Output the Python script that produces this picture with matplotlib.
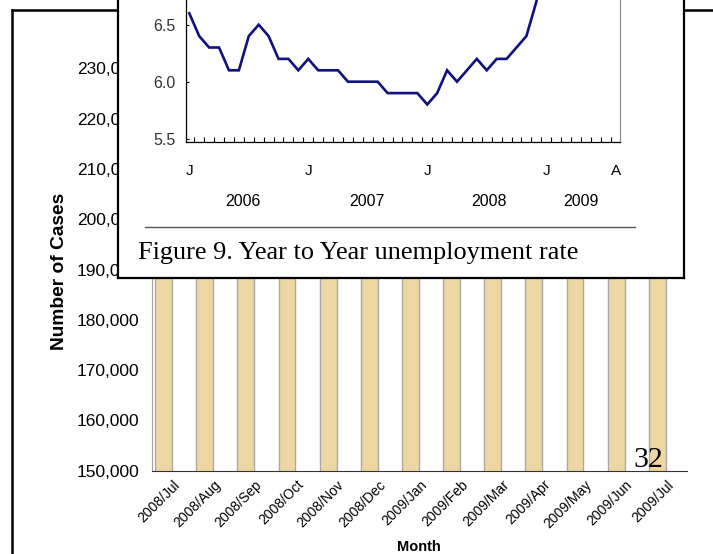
import numpy as np
import matplotlib
matplotlib.use('Agg')
import matplotlib.pyplot as plt
from matplotlib.lines import Line2D
import matplotlib.transforms as mtransforms

# Bar chart data (number of cases per month; tops hidden behind the inset)
months = ['2008/Jul', '2008/Aug', '2008/Sep', '2008/Oct', '2008/Nov', '2008/Dec',
          '2009/Jan', '2009/Feb', '2009/Mar', '2009/Apr', '2009/May', '2009/Jun', '2009/Jul']
cases = [196000, 199000, 203000, 205000, 208000, 213000, 218000,
         221000, 224000, 226000, 228000, 229000, 229500]
case_ticks = [150000, 160000, 170000, 180000, 190000, 200000, 210000, 220000, 230000]

# Inset: monthly unemployment rate, Jan 2006 .. Aug 2009
rate = [6.6, 6.4, 6.3, 6.3, 6.1, 6.1, 6.4, 6.5, 6.4, 6.2, 6.2, 6.1,
        6.2, 6.1, 6.1, 6.1, 6.0, 6.0, 6.0, 6.0, 5.9, 5.9, 5.9, 5.9,
        5.8, 5.9, 6.1, 6.0, 6.1, 6.2, 6.1, 6.2, 6.2, 6.3, 6.4, 6.7,
        7.2, 7.7, 8.0, 8.3, 8.6, 8.7, 8.6, 8.7]
rate_ticks = [5.5, 6.0, 6.5]
month_letters = ['J', 'J', 'J', 'J', 'A']
month_letter_pos = [0, 12, 24, 36, 43]
years = ['2006', '2007', '2008', '2009']
year_pos = [5.4, 17.9, 30.25, 39.5]

W, H = 713, 554
fig = plt.figure(figsize=(W / 100, H / 100), dpi=100)
sans = 'Liberation Sans'
serif = 'Liberation Serif'

# ---- background bar chart ----
ax = fig.add_axes([152 / W, 1 - 470.7 / H, 535 / W, (470.7 - 68.3) / H])
x = np.arange(len(months))
ax.bar(x - 0.22, cases, width=0.41, color='#EDD6A2', edgecolor='#A8A8A8', linewidth=1)
ax.set_xlim(-0.5, len(months) - 0.5)
ax.set_ylim(150000, 230000)
ax.set_yticks(case_ticks)
ax.set_yticklabels([f'{v:,}' for v in case_ticks], fontsize=12.5, family=sans)
ax.set_xticks(x)
ax.set_xticklabels(months, rotation=45, ha='right', va='top', rotation_mode='anchor',
                   fontsize=10, family=sans)
ax.tick_params(axis='y', length=0, pad=9)
ax.tick_params(axis='x', length=0, pad=5)
for s in ['top', 'right']:
    ax.spines[s].set_visible(False)
ax.spines['left'].set_color('#A0A0A0')
ax.spines['bottom'].set_color('#333333')
ax.set_zorder(0)

fig.text(59.5 / W, 1 - 271 / H, 'Number of Cases', rotation=90, ha='center', va='center',
         fontsize=13.8, fontweight='bold', family=sans)
fig.text(418.7 / W, 1 - 547.3 / H, 'Month', ha='center', va='center',
         fontsize=10.5, fontweight='bold', family=sans)
fig.text(633 / W, 1 - 466.7 / H, '32', ha='left', va='baseline', fontsize=21.5, family=serif)

# outer page frame
fig.add_artist(Line2D([12 / W, 12 / W], [0, 1 - 10 / H], color='black', lw=1.8, zorder=1))
fig.add_artist(Line2D([12 / W, 1], [1 - 10 / H, 1 - 10 / H], color='black', lw=1.8, zorder=1))

# ---- inset box ----
box = fig.add_axes([118 / W, 1 - 278 / H, 566 / W, 0.6])
box.set_xticks([])
box.set_yticks([])
box.set_facecolor('white')
for s in box.spines.values():
    s.set_linewidth(1.6)
    s.set_color('black')
box.set_zorder(5)

# ---- inset line chart ----
px_per_unit = 114.0
y_bot = 5.5 - 3 / px_per_unit
y_top = 7.0
bot_px = 141.7
top_px = bot_px - (y_top - y_bot) * px_per_unit
lax = fig.add_axes([185.7 / W, 1 - bot_px / H, (619.5 - 185.7) / W, (bot_px - top_px) / H])
k = np.arange(len(rate))
lax.plot(k, rate, color='#10107F', lw=1.9, solid_joinstyle='miter')
lax.set_xlim(-0.363, 43.39)
lax.set_ylim(y_bot, y_top)
lax.set_yticks(rate_ticks)
lax.set_yticklabels([f'{v:.1f}' for v in rate_ticks], fontsize=11.5, family=sans, color='#333333')
lax.tick_params(axis='y', direction='in', length=2.5, pad=7, width=0.8)
lax.set_xticks(month_letter_pos)
lax.set_xticklabels(month_letters, fontsize=11, family=sans)
lax.set_xticks(np.arange(len(rate) - 1) + 0.5, minor=True)
lax.tick_params(axis='x', which='major', length=0, pad=16)
lax.tick_params(axis='x', which='minor', direction='in', length=3.5, width=0.8)
lax.spines['top'].set_visible(False)
lax.spines['right'].set_color('#888888')
lax.spines['left'].set_linewidth(0.9)
lax.spines['bottom'].set_linewidth(0.9)
lax.set_zorder(6)
lax.patch.set_alpha(0)

trans = mtransforms.blended_transform_factory(lax.transData, fig.transFigure)
for yr, pos in zip(years, year_pos):
    fig.text(pos, 1 - 201.7 / H, yr, transform=trans, ha='center', va='center',
             fontsize=11.5, family=sans, zorder=8)

fig.add_artist(Line2D([145 / W, 635 / W], [1 - 227 / H, 1 - 227 / H], color='#555555',
                      lw=1.0, zorder=8))
fig.text(138 / W, 1 - 258.5 / H, 'Figure 9. Year to Year unemployment rate', ha='left',
         va='baseline', fontsize=18.9, family=serif, zorder=8)

fig.savefig('out.png', dpi=100)
